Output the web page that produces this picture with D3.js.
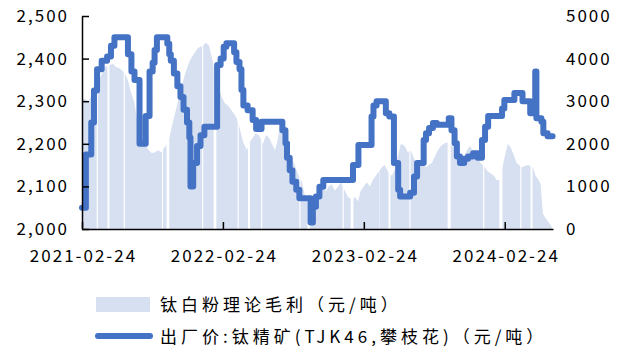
<!DOCTYPE html>
<html>
<head>
<meta charset="utf-8">
<script src="https://cdn.jsdelivr.net/npm/d3@7/dist/d3.min.js"></script>
<style>
  html, body { margin: 0; padding: 0; background: #fff; }
  svg { display: block; font-family: "Noto Sans CJK SC", "Noto Sans", sans-serif; }
</style>
</head>
<body>
<svg id="chart" width="620" height="352"></svg>
<script>
// 出厂价:钛精矿(TJK46,攀枝花) — change points of the weekly quote (元/吨)
const priceDates = [
  "2021-02-24","2021-03-06","2021-03-20","2021-03-27","2021-04-04","2021-04-16","2021-04-30",
  "2021-05-10","2021-05-19","2021-06-23","2021-07-02","2021-07-10","2021-07-23","2021-08-08",
  "2021-08-18","2021-08-26","2021-08-31","2021-09-06","2021-10-03","2021-10-08","2021-10-12",
  "2021-10-20","2021-10-29","2021-11-06","2021-11-14","2021-11-23","2021-11-29","2021-12-02",
  "2021-12-09","2021-12-19","2021-12-28","2022-01-07","2022-02-09","2022-02-18","2022-02-26",
  "2022-03-05","2022-03-25","2022-03-31","2022-04-08","2022-04-13","2022-04-18","2022-04-29",
  "2022-05-12","2022-05-21","2022-06-04","2022-07-28","2022-08-05","2022-08-09","2022-08-16",
  "2022-08-23","2022-09-02","2022-09-10","2022-10-09","2022-10-15","2022-10-23","2022-11-01",
  "2022-11-11","2023-01-27","2023-02-10","2023-03-16","2023-03-21","2023-03-29","2023-04-22",
  "2023-05-01","2023-05-13","2023-05-24","2023-05-29","2023-06-24","2023-07-04","2023-07-12",
  "2023-07-29","2023-08-04","2023-08-12","2023-08-22","2023-09-01","2023-10-02","2023-10-09",
  "2023-10-17","2023-10-23","2023-10-31","2023-11-11","2023-11-21","2023-12-04","2023-12-16",
  "2023-12-27","2024-01-04","2024-01-12","2024-02-17","2024-02-23","2024-03-20","2024-04-10",
  "2024-04-30","2024-05-13","2024-05-16","2024-05-29","2024-06-03","2024-06-14","2024-06-27"
];
const priceValues = [
  2050,2175,2250,2325,2375,2395,2405,
  2430,2450,2410,2370,2350,2200,2265,
  2370,2390,2420,2450,2435,2410,2395,
  2365,2335,2310,2280,2250,2215,2100,
  2155,2195,2220,2240,2385,2400,2428,
  2436,2415,2392,2375,2326,2290,2279,
  2256,2235,2252,2232,2201,2167,2138,
  2111,2092,2072,2015,2052,2076,2099,
  2115,2150,2197,2264,2290,2300,2272,
  2264,2155,2092,2076,2085,2123,2155,
  2209,2225,2237,2249,2245,2260,2232,
  2201,2170,2155,2165,2170,2178,2167,
  2209,2240,2265,2283,2303,2319,2300,
  2272,2370,2260,2252,2225,2218,2218
];

// 钛白粉理论毛利 (元/吨)
const marginDates = [
  "2021-02-24","2021-03-04","2021-03-12","2021-03-19","2021-03-27","2021-04-09","2021-04-17",
  "2021-04-25","2021-05-07","2021-05-15","2021-05-23","2021-05-31","2021-06-08","2021-06-15",
  "2021-06-23","2021-07-01","2021-07-09","2021-07-16","2021-07-24","2021-08-01","2021-08-09",
  "2021-08-16","2021-08-24","2021-09-01","2021-09-09","2021-09-17","2021-09-24","2021-10-05",
  "2021-10-12","2021-10-20","2021-10-28","2021-11-05","2021-11-12","2021-11-20","2021-11-28",
  "2021-12-06","2021-12-14","2021-12-21","2022-01-03","2022-01-11","2022-01-19","2022-01-27",
  "2022-02-06","2022-02-14","2022-02-21","2022-03-01","2022-03-09","2022-03-17","2022-03-25",
  "2022-04-01","2022-04-09","2022-04-17","2022-04-27","2022-05-05","2022-05-13","2022-05-20",
  "2022-05-28","2022-06-08","2022-06-15","2022-06-23","2022-07-01","2022-07-09","2022-07-16",
  "2022-07-24","2022-07-29","2022-08-06","2022-08-14","2022-08-22","2022-08-29","2022-09-06",
  "2022-09-17","2022-09-24","2022-10-02","2022-10-10","2022-10-18","2022-10-25","2022-11-02",
  "2022-11-10","2022-11-18","2022-11-25","2022-12-03","2022-12-11","2022-12-19","2022-12-27",
  "2023-01-06","2023-01-14","2023-01-24","2023-02-01","2023-02-09","2023-02-16","2023-02-24",
  "2023-03-04","2023-03-12","2023-03-19","2023-03-27","2023-04-04","2023-04-12","2023-04-19",
  "2023-04-30","2023-05-08","2023-05-15","2023-05-23","2023-05-31","2023-06-10","2023-06-18",
  "2023-06-26","2023-07-04","2023-07-11","2023-07-19","2023-07-27","2023-08-04","2023-08-11",
  "2023-08-19","2023-08-27","2023-09-04","2023-09-11","2023-09-19","2023-10-02","2023-10-10",
  "2023-10-18","2023-10-25","2023-11-02","2023-11-10","2023-11-18","2023-11-26","2023-12-03",
  "2023-12-11","2023-12-19","2024-01-03","2024-01-11","2024-01-19","2024-01-27","2024-02-03",
  "2024-02-11","2024-02-24","2024-03-03","2024-03-11","2024-03-18","2024-03-26","2024-04-08",
  "2024-04-16","2024-04-24","2024-05-07","2024-05-14","2024-05-22","2024-05-27","2024-06-02",
  "2024-06-09","2024-06-17","2024-06-25"
];
const marginValues = [
  3050,3050,3000,3100,3300,3500,3650,
  3800,3850,3880,3800,3780,3720,3650,
  3500,3200,3000,2600,2300,2100,1950,
  1850,1780,1800,1850,1800,1900,2000,
  2300,2600,2900,3200,3450,3700,3900,
  4050,4150,4250,4300,4370,4300,4000,
  3600,3300,3100,2950,2900,2800,2700,
  2600,2350,2050,1850,2050,2150,2250,
  2200,2000,2200,2150,2000,1850,2100,
  2600,2300,1950,1800,1650,1500,1300,
  1100,800,600,350,300,500,850,
  950,900,1000,1050,900,1000,1100,
  900,750,700,750,650,900,1000,
  1100,1000,1150,1250,1350,1450,1500,
  1300,1250,1400,1700,2000,1950,1800,
  1850,1650,1550,1600,1500,1450,1500,
  1550,1700,1850,1950,2000,2050,1950,
  1900,1750,1650,1700,1850,1950,1850,
  1700,1600,1450,1350,1300,1250,1150,
  1150,1700,2000,1900,1750,1550,1450,
  1480,1500,1450,1250,1150,1050,350,
  250,150,50
];

// holiday breaks with no margin quote
const gapStarts = [
  "2021-04-03","2021-05-01","2021-06-12","2021-09-19","2021-10-01","2022-01-01","2022-01-31",
  "2022-04-03","2022-04-30","2022-06-03","2022-09-10","2022-10-01","2022-12-31","2023-01-21",
  "2023-04-05","2023-04-29","2023-06-22","2023-09-29","2023-12-30","2024-02-10","2024-04-04",
  "2024-05-01"
];
const gapEnds = [
  "2021-04-05","2021-05-05","2021-06-14","2021-09-21","2021-10-07","2022-01-03","2022-02-06",
  "2022-04-05","2022-05-04","2022-06-05","2022-09-12","2022-10-07","2023-01-02","2023-01-27",
  "2023-04-05","2023-05-03","2023-06-24","2023-10-06","2024-01-01","2024-02-17","2024-04-06",
  "2024-05-05"
];

const xTickLabels = ["2021-02-24","2022-02-24","2023-02-24","2024-02-24"];
const leftTicks = [2000,2100,2200,2300,2400,2500];
const rightTicks = [0,1000,2000,3000,4000,5000];
const seriesNames = ["钛白粉理论毛利（元/吨）","出厂价:钛精矿(TJK46,攀枝花)（元/吨）"];

const parse = d3.utcParse("%Y-%m-%d");
const fmtDate = d3.utcFormat("%Y-%m-%d");

const lineColor = "#4472c4";
const areaColor = "#d7e0f1";

const plotLeft = 82, plotRight = 553, plotTop = 16, plotBottom = 229;

const svg = d3.select("#chart");

const x = d3.scaleUtc()
  .domain([parse("2021-02-24"), parse("2024-06-28")])
  .range([plotLeft, plotRight]);
const yL = d3.scaleLinear().domain([2000, 2500]).range([plotBottom, plotTop]);
const yR = d3.scaleLinear().domain([0, 5000]).range([plotBottom, plotTop]);

const price = priceDates.map((d, i) => ({ date: parse(d), value: priceValues[i] }));
const margin = marginDates.map((d, i) => ({ date: parse(d), value: marginValues[i] }));

// clip the margin area so the holiday breaks stay open
const breaks = gapStarts.map((s, i) => [parse(s), d3.utcDay.offset(parse(gapEnds[i]), 1)]);
const spans = [];
let cursor = x.domain()[0];
breaks.forEach(([s, e]) => { spans.push([cursor, s]); cursor = e; });
spans.push([cursor, x.domain()[1]]);

const defs = svg.append("defs");
defs.append("clipPath").attr("id", "marginClip")
  .selectAll("rect").data(spans).join("rect")
  .attr("x", d => x(d[0]))
  .attr("width", d => Math.max(0, x(d[1]) - x(d[0])))
  .attr("y", plotTop - 5)
  .attr("height", plotBottom - plotTop + 5);

svg.append("path")
  .datum(margin)
  .attr("clip-path", "url(#marginClip)")
  .attr("fill", areaColor)
  .attr("d", d3.area()
    .x(d => x(d.date))
    .y0(yR(0))
    .y1(d => yR(d.value)));

svg.append("path")
  .datum(price)
  .attr("fill", "none")
  .attr("stroke", lineColor)
  .attr("stroke-width", 6)
  .attr("stroke-linejoin", "round")
  .attr("stroke-linecap", "round")
  .attr("d", d3.line()
    .x(d => x(d.date))
    .y(d => yL(d.value))
    .curve(d3.curveStepAfter));

// axes
const tickFont = g => g.selectAll("text")
  .attr("font-family", "'Noto Sans CJK SC', sans-serif")
  .attr("font-size", 17)
  .attr("letter-spacing", 2)
  .attr("fill", "#000");

const axL = svg.append("g")
  .attr("transform", `translate(${plotLeft},0)`)
  .call(d3.axisLeft(yL).tickValues(leftTicks).tickFormat(d3.format(","))
    .tickSize(-7).tickSizeOuter(0).tickPadding(13))
  .call(tickFont);
axL.select(".domain").attr("stroke", "#000").attr("stroke-width", 1.5);
axL.selectAll(".tick line").attr("stroke", "#000").attr("stroke-width", 1.5);

const axR = svg.append("g")
  .attr("transform", `translate(${plotRight},0)`)
  .call(d3.axisRight(yR).tickValues(rightTicks).tickFormat(d3.format("d"))
    .tickSize(0).tickPadding(13))
  .call(tickFont);
axR.select(".domain").remove();

const axB = svg.append("g")
  .attr("transform", `translate(0,${plotBottom})`)
  .call(d3.axisBottom(x).tickValues(xTickLabels.map(parse)).tickFormat(fmtDate)
    .tickSize(-7).tickSizeOuter(0).tickPadding(21))
  .call(tickFont);
axB.select(".domain").attr("stroke", "#000").attr("stroke-width", 1.5);
axB.selectAll(".tick line").attr("stroke", "#000").attr("stroke-width", 1.5);
axB.selectAll(".tick text").attr("dx", 1);

// legend
const legend = svg.append("g");
legend.append("rect")
  .attr("x", 96).attr("y", 297).attr("width", 54).attr("height", 15)
  .attr("fill", areaColor);
legend.append("line")
  .attr("x1", 98).attr("x2", 150).attr("y1", 336).attr("y2", 336)
  .attr("stroke", lineColor).attr("stroke-width", 6).attr("stroke-linecap", "round");
legend.selectAll("text").data(seriesNames).join("text")
  .attr("x", 160)
  .attr("y", (d, i) => i === 0 ? 305 : 337)
  .attr("dy", "0.35em")
  .attr("font-size", 17)
  .attr("letter-spacing", 4)
  .attr("fill", "#000")
  .text(d => d);
</script>
</body>
</html>
